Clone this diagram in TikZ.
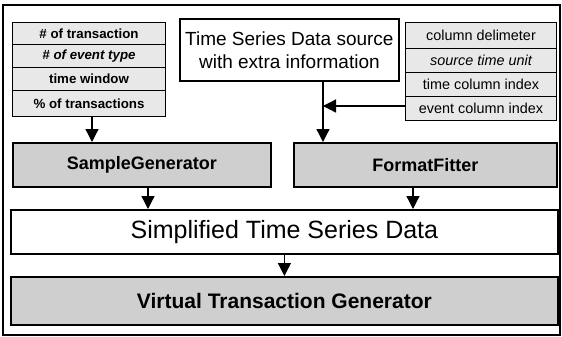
\documentclass[tikz,border=0pt]{standalone}
\usepackage{fontspec}
\setmainfont{Liberation Sans}
\usetikzlibrary{arrows.meta}
\begin{document}
\begin{tikzpicture}[x=1pt,y=-1pt,
  listrow/.style={draw, line width=1pt, fill=gray!18, inner sep=0pt, anchor=north west, minimum width=#1},
  thickbox/.style={draw, line width=1.8pt, inner sep=0pt, anchor=north west},
  darkbox/.style={thickbox, fill=gray!38},
  arr/.style={line width=1.3pt, -{Triangle[width=13pt,length=13pt]}},
  lft/.style={font=\fontsize{13.3}{15}\selectfont\bfseries},
  rgt/.style={font=\fontsize{14.4}{16}\selectfont}]
\useasboundingbox (0,0) rectangle (562,337);
\draw[line width=1.2pt] (3,5) rectangle (560,335);
% left list
\node[listrow=153, minimum height=22.5pt, lft] (l1) at (12,22) {\# of transaction};
\node[listrow=153, minimum height=22.5pt, lft] (l2) at (12,44.5) {\itshape \# of event type};
\node[listrow=153, minimum height=22.5pt, lft] (l3) at (12,67) {time window};
\node[listrow=153, minimum height=26.5pt, lft] (l4) at (12,89.5) {\% of transactions};
% right list
\node[listrow=151, minimum height=26pt, rgt] (r1) at (405,22) {column delimeter};
\node[listrow=151, minimum height=24pt, rgt] (r2) at (405,48) {\itshape source time unit};
\node[listrow=151, minimum height=24pt, rgt] (r3) at (405,72) {time column index};
\node[listrow=151, minimum height=24pt, rgt] (r4) at (405,96) {event column index};
% time series source
\node[thickbox, fill=white, minimum width=219pt, minimum height=62pt, align=center,
      font=\fontsize{19}{23}\selectfont] (ts) at (179,18) {Time Series Data source\\with extra information};
% generators
\node[darkbox, minimum width=258pt, minimum height=44pt, font=\fontsize{18}{20}\selectfont\bfseries] (sg) at (12,142) {SampleGenerator};
\node[darkbox, minimum width=263pt, minimum height=44pt, font=\fontsize{18}{20}\selectfont\bfseries] (ff) at (293,142) {FormatFitter};
\node[thickbox, fill=white, minimum width=547pt, minimum height=44pt, font=\fontsize{25}{28}\selectfont] (st) at (10,209) {Simplified Time Series Data};
\node[darkbox, minimum width=547pt, minimum height=48pt, font=\fontsize{21}{24}\selectfont\bfseries] (vt) at (10,276) {Virtual Transaction Generator};
% connector columns
\coordinate (ca) at (92,0);
\coordinate (cj) at (323,106);
\coordinate (cb) at (148,0);
\coordinate (cc) at (413,0);
\draw[arr] (l4.south -| ca) -- (sg.north -| ca);
\draw[line width=1.3pt] (ts.south -| cj) -- (cj);
\draw[arr] (cj) -- (ff.north -| cj);
\draw[arr] (r4.west |- cj) -- (cj);
\draw[arr] (sg.south -| cb) -- (st.north -| cb);
\draw[arr] (ff.south -| cc) -- (st.north -| cc);
\draw[arr] (st.south) -- (vt.north);
\end{tikzpicture}
\end{document}
